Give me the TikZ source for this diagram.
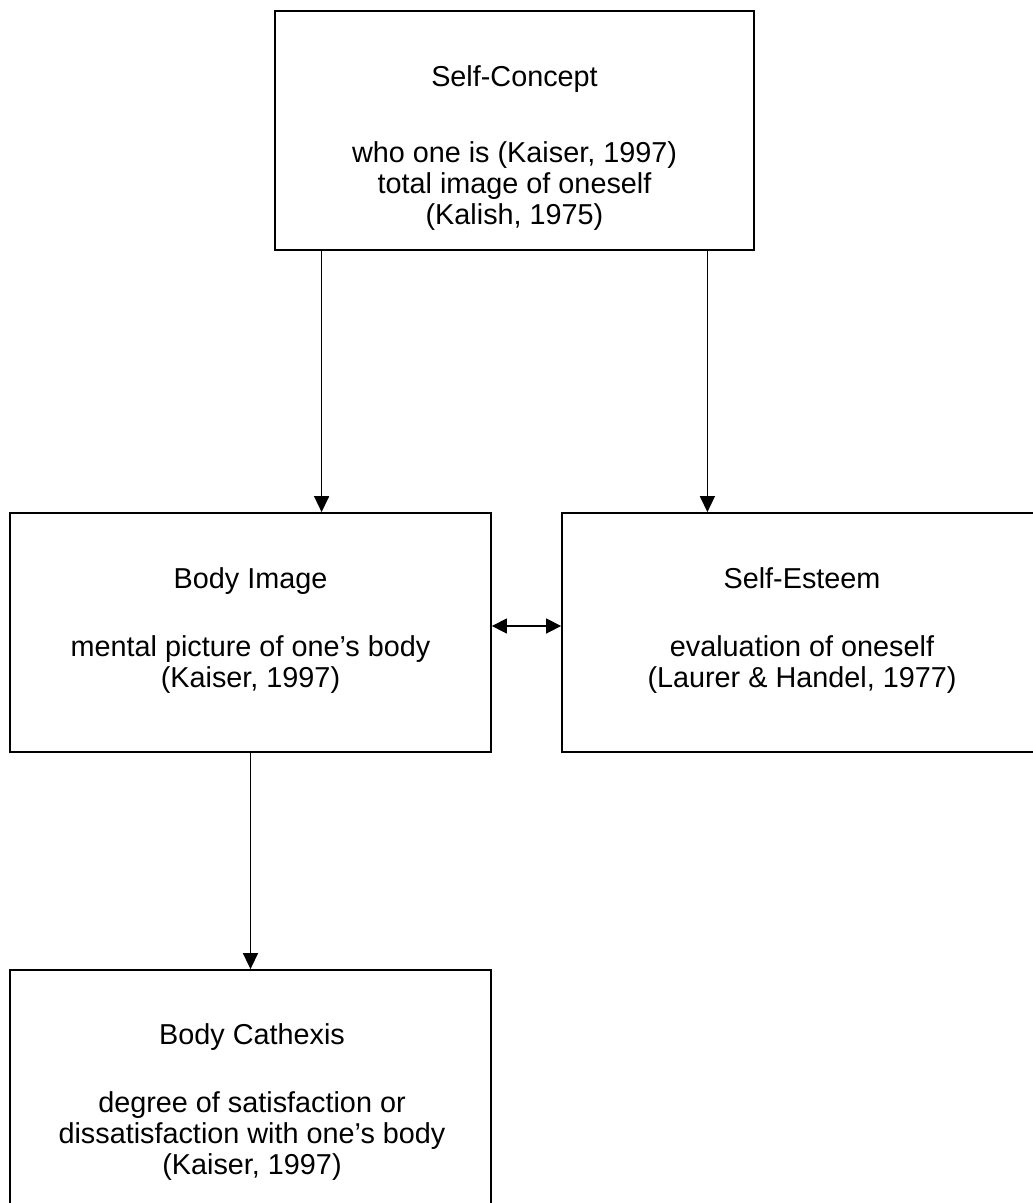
\documentclass[tikz,border=0pt]{standalone}
\usepackage{fontspec}
\setmainfont{Liberation Sans}
\usetikzlibrary{arrows.meta}
\begin{document}
\begin{tikzpicture}[x=1pt,y=-1pt,
  box/.style={draw,line width=1.8pt,inner sep=0pt},
  wide/.style={minimum width=481pt,minimum height=239pt},
  txt/.style={align=center,inner sep=0pt,anchor=north,
    font=\fontsize{28.8}{31}\selectfont},
  tip/.style={},
  arr/.style={line width=1.5pt,-{Triangle[length=16pt,width=15pt]}},
  dbl/.style={line width=1.5pt,{Triangle[length=15pt,width=15pt]}-{Triangle[length=15pt,width=15pt]}}]
\useasboundingbox (0,0) rectangle (1033,1203);
\clip (0,0) rectangle (1033,1203);

% boxes
\node[box,minimum width=479pt,minimum height=239pt] (sc) at (514.5,130.5) {};
\node[box,wide] (bi) at (250.5,632.5) {};
\node[box,wide] (se) at (802.5,632.5) {};
\node[box,wide] (bc) at (250.5,1089.5) {};

% box texts
\node[txt] (sct) at (514.5,64.3) {\strut Self-Concept\\[45pt]
  who one is (Kaiser, 1997)\\ total image of oneself\\ (Kalish, 1975)};
\node[txt] (bit) at (250.5,566.3) {\strut Body Image\\[37pt]
  mental picture of one’s body\\ (Kaiser, 1997)};
\node[txt] (set) at (802,566.3) {\strut Self-Esteem\\[37pt]
  evaluation of oneself\\ (Laurer \& Handel, 1977)};
\node[txt] (bct) at (252,1022.3) {\strut Body Cathexis\\[37pt]
  degree of satisfaction or\\ dissatisfaction with one’s body\\ (Kaiser, 1997)};

% connectors
\draw[arr] ([xshift=47.5pt]sc.south west) -- ([xshift=47.5pt]sc.south west |- bi.north);
\draw[arr] ([xshift=-47.5pt]sc.south east) -- ([xshift=-47.5pt]sc.south east |- se.north);
\draw[dbl] ([yshift=6.5pt]bi.east) -- ([yshift=6.5pt]bi.east -| se.west);
\draw[arr] (bi.south) -- (bc.north);
\end{tikzpicture}
\end{document}
